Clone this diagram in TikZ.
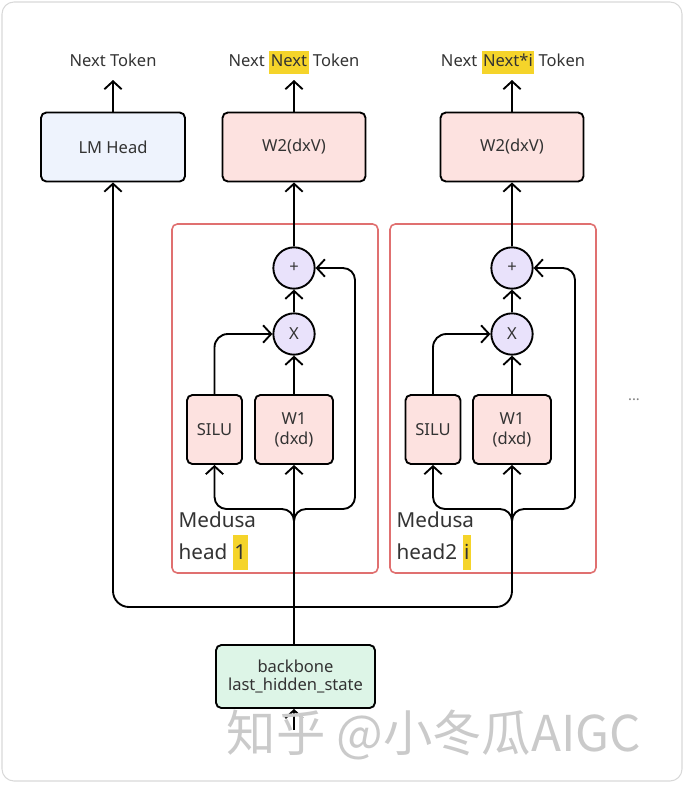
\documentclass[tikz,border=0pt]{standalone}
\usepackage{fontspec}
\setmainfont{Noto Sans}
\newfontfamily\cjk{Noto Sans CJK SC}
\usetikzlibrary{arrows.meta}
\definecolor{txt}{HTML}{333333}
\definecolor{lmfill}{HTML}{EEF3FD}
\definecolor{redfill}{HTML}{FDE2E0}
\definecolor{circfill}{HTML}{E9E2FB}
\definecolor{bbfill}{HTML}{DDF5E7}
\definecolor{medred}{HTML}{E07070}
\definecolor{hl}{HTML}{F5D42A}
\definecolor{card}{HTML}{D8D8D8}
\definecolor{wm}{HTML}{CACACA}
\newcommand{\hlw}[1]{{\setlength{\fboxsep}{1.2pt}\colorbox{hl}{\strut #1}}}
\begin{document}
\begin{tikzpicture}[x=0.75pt,y=-0.75pt,
  every node/.style={text=txt,font=\fontsize{12.4}{15}\selectfont},
  blk/.style={draw=black,line width=1.4pt,rounded corners=4pt,align=center,inner sep=0pt},
  lmbox/.style={blk,fill=lmfill,minimum width=108pt,minimum height=51.75pt},
  w2box/.style={blk,fill=redfill,minimum width=107.25pt,minimum height=51.75pt},
  silubox/.style={blk,fill=redfill,minimum width=41.25pt,minimum height=51.75pt},
  w1box/.style={blk,fill=redfill,minimum width=58.5pt,minimum height=51.75pt},
  opcirc/.style={circle,draw=black,line width=1.4pt,fill=circfill,minimum size=31pt,inner sep=0pt},
  medbox/.style={draw=medred,line width=1.2pt,rounded corners=4pt,minimum width=154.5pt,minimum height=261.75pt,inner sep=0pt},
  bbbox/.style={blk,fill=bbfill,minimum width=119.25pt,minimum height=47.25pt},
  toplbl/.style={inner sep=1pt},
  medlbl/.style={anchor=west,align=left,font=\fontsize{15.5}{24}\selectfont},
  arr/.style={line width=1.4pt,-{Straight Barb[length=6pt,width=13pt,line width=1.4pt]}},
  conn/.style={line width=1.4pt}
]
\useasboundingbox (0,0) rectangle (687,785);
\draw[card,line width=0.8pt,rounded corners=9pt] (2,2) rectangle (682,781);

% containers
\node[medbox] (m1) at (275,398.5) {};
\node[medbox] (m2) at (493,398.5) {};

% top labels
\node[toplbl] (t1) at (113,62.5) {\strut Next Token};
\node[toplbl] (t2) at (294,62.5) {Next \hlw{Next} Token};
\node[toplbl] (t3) at (513,62.5) {Next \hlw{Next*i} Token};

% top boxes
\node[lmbox] (lm) at (113,147) {LM Head};
\node[w2box] (w21) at (294,147) {W2(dxV)};
\node[w2box] (w22) at (512,147) {W2(dxV)};

% head 1
\node[opcirc] (p1) at (294,268) {+};
\node[opcirc] (x1) at (294,334) {X};
\node[silubox] (s1) at (214.5,429.5) {SILU};
\node[w1box] (w11) at (294,429.5) {W1\\(dxd)};
\node[medlbl] at (174,541) {Medusa\\head \hlw{1}};

% head 2
\node[opcirc] (p2) at (512,268) {+};
\node[opcirc] (x2) at (512,334) {X};
\node[silubox] (s2) at (433,429.5) {SILU};
\node[w1box] (w12) at (512,429.5) {W1\\(dxd)};
\node[medlbl] at (392,541) {Medusa\\head2 \hlw{i}};

\node[font=\fontsize{11}{12}\selectfont,text=gray] (dots) at (634,400) {...};

% backbone
\node[bbbox] (bb) at (295.5,676.5) {backbone\\[-1pt]last\_hidden\_state};

% coordinates
\coordinate (a1) at (113,80);
\coordinate (a2) at (294,80);
\coordinate (a3) at (512,80);
\coordinate (h) at (294,607);
\coordinate (j1) at (294,528);
\coordinate (j2) at (512,528);
\coordinate (c1l) at (214.5,509);
\coordinate (c1r) at (355,509);
\coordinate (c1t) at (355,268);
\coordinate (c2l) at (433,509);
\coordinate (c2r) at (575,509);
\coordinate (c2t) at (575,268);
\coordinate (in) at (294,730);

% top arrows
\draw[arr] (lm.north) -- (a1);
\draw[arr] (w21.north) -- (a2);
\draw[arr] (w22.north) -- (a3);

% head 1 connectors
\draw[arr,rounded corners=10pt] (s1.north) |- (x1.west);
\draw[arr] (w11.north) -- (x1.south);
\draw[arr] (x1.north) -- (p1.south);
\draw[arr] (p1.north) -- (w21.south);
\draw[arr] (h) -- (w11.south);
\draw[conn] (bb.north -| h) -- (h);
\draw[arr,rounded corners=9pt] (j1) |- (c1l) -- (s1.south);
\draw[arr,rounded corners=9pt] (j1) |- (c1r) -- (c1t) -- (p1.east);

% head 2 connectors
\draw[arr,rounded corners=10pt] (s2.north) |- (x2.west);
\draw[arr] (w12.north) -- (x2.south);
\draw[arr] (x2.north) -- (p2.south);
\draw[arr] (p2.north) -- (w22.south);
\draw[arr,rounded corners=9pt] (j2) |- (c2l) -- (s2.south);
\draw[arr,rounded corners=9pt] (j2) |- (c2r) -- (c2t) -- (p2.east);

% big loop
\draw[arr,rounded corners=12pt] (h) -| (lm.south);
\draw[arr,rounded corners=12pt] (h) -| (w12.south);

% input into backbone
\draw[arr] (in) -- (in |- bb.south);

% watermark
\node[anchor=west,text=wm,font=\cjk\fontsize{37}{40}\selectfont] (wmk) at (222,735) {知乎 @小冬瓜AIGC};
\end{tikzpicture}
\end{document}
